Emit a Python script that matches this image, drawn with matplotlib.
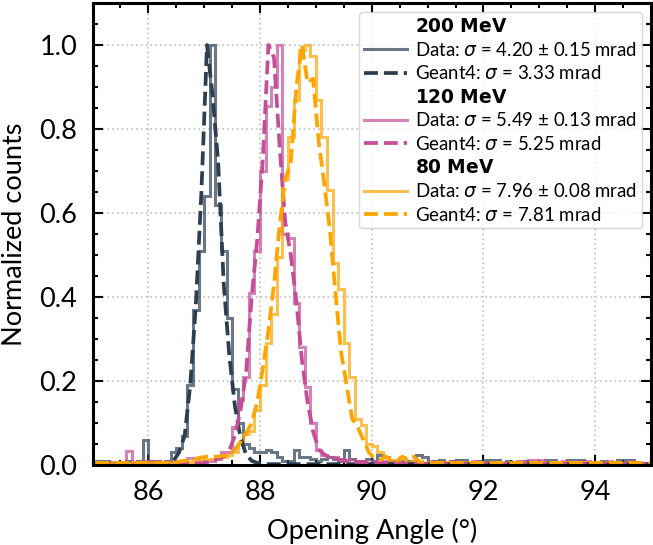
import numpy as np
import matplotlib
matplotlib.use("Agg")
import matplotlib.pyplot as plt
from matplotlib.lines import Line2D
from matplotlib.ticker import MultipleLocator

plt.rcParams["font.family"] = ["Lato", "DejaVu Sans"]
plt.rcParams["mathtext.fontset"] = "dejavusans"

# bin edges of the opening-angle histograms (deg), 0.1 deg bins
edges = np.round(np.arange(85.0, 95.0001, 0.1), 2)

# measured data, normalized counts per bin
data_200 = [
    0.01, 0.01, 0.01, 0.005, 0.0, 0.005, 0.01, 0.0, 0.01, 0.06,
    0.01, 0.01, 0.005, 0.01, 0.03, 0.04, 0.07, 0.19, 0.37, 0.51,
    0.64, 1.0, 0.62, 0.51, 0.35, 0.18, 0.10, 0.05, 0.04, 0.03,
    0.03, 0.035, 0.03, 0.02, 0.01, 0.01, 0.035, 0.02, 0.02, 0.015,
    0.01, 0.015, 0.02, 0.015, 0.01, 0.035, 0.015, 0.01, 0.01, 0.015,
    0.01, 0.025, 0.02, 0.01, 0.005, 0.01, 0.01, 0.005, 0.025, 0.02,
    0.005, 0.01, 0.012, 0.005, 0.01, 0.012, 0.012, 0.005, 0.005, 0.01,
    0.012, 0.012, 0.012, 0.005, 0.01, 0.005, 0.005, 0.01, 0.005, 0.005,
    0.005, 0.012, 0.012, 0.005, 0.005, 0.012, 0.012, 0.012, 0.005, 0.005,
    0.005, 0.01, 0.005, 0.005, 0.012, 0.012, 0.012, 0.005, 0.005, 0.005]
data_120 = [
    0.008, 0.008, 0.008, 0.008, 0.0, 0.005, 0.034, 0.005, 0.005, 0.01,
    0.005, 0.01, 0.005, 0.005, 0.01, 0.005, 0.005, 0.017, 0.017, 0.005,
    0.01, 0.01, 0.015, 0.03, 0.03, 0.09, 0.155, 0.21, 0.41, 0.51,
    0.70, 0.855, 0.90, 1.0, 0.55, 0.54, 0.385, 0.28, 0.186, 0.10,
    0.035, 0.025, 0.02, 0.02, 0.015, 0.01, 0.015, 0.01, 0.01, 0.005,
    0.01, 0.005, 0.01, 0.005, 0.01, 0.005, 0.005, 0.01, 0.005, 0.005,
    0.01, 0.005, 0.005, 0.005, 0.01, 0.005, 0.005, 0.005, 0.01, 0.005,
    0.008, 0.008, 0.008, 0.005, 0.005, 0.005, 0.01, 0.005, 0.013, 0.013,
    0.013, 0.005, 0.005, 0.005, 0.01, 0.005, 0.005, 0.005, 0.01, 0.005,
    0.005, 0.005, 0.01, 0.005, 0.005, 0.005, 0.01, 0.005, 0.005, 0.005]
data_80 = [
    0.005, 0.008, 0.005, 0.005, 0.008, 0.005, 0.005, 0.008, 0.005, 0.005,
    0.008, 0.005, 0.005, 0.008, 0.005, 0.008, 0.01, 0.008, 0.012, 0.01,
    0.015, 0.015, 0.02, 0.02, 0.025, 0.03, 0.05, 0.075, 0.08, 0.13,
    0.19, 0.29, 0.36, 0.495, 0.68, 0.78, 0.87, 0.988, 1.0, 0.975,
    0.87, 0.78, 0.655, 0.48, 0.42, 0.29, 0.21, 0.11, 0.095, 0.05,
    0.045, 0.03, 0.02, 0.012, 0.01, 0.02, 0.008, 0.01, 0.008, 0.005,
    0.008, 0.005, 0.005, 0.008, 0.005, 0.005, 0.008, 0.005, 0.005, 0.008,
    0.005, 0.005, 0.008, 0.005, 0.005, 0.005, 0.008, 0.005, 0.005, 0.005,
    0.008, 0.005, 0.005, 0.005, 0.008, 0.005, 0.005, 0.005, 0.008, 0.005,
    0.005, 0.005, 0.008, 0.005, 0.005, 0.005, 0.008, 0.005, 0.005, 0.005]

# Geant4 simulation, value at each bin centre
g4_200 = [0.002] * 13 + [
    0.004, 0.01, 0.03, 0.07, 0.19, 0.38, 0.65, 1.0, 0.88, 0.72,
    0.43, 0.26, 0.14, 0.065, 0.025, 0.01, 0.005] + [0.002] * 70
g4_120 = [0.004] * 20 + [
    0.006, 0.01, 0.015, 0.02, 0.035, 0.07, 0.13, 0.22, 0.40, 0.536,
    0.73, 1.0, 0.97, 0.76, 0.58, 0.50, 0.39, 0.25, 0.15, 0.08,
    0.037, 0.025, 0.018, 0.015, 0.012, 0.01, 0.008, 0.007, 0.006, 0.006,
    0.005, 0.005, 0.005, 0.004, 0.004] + [0.003] * 45
g4_80 = [0.005] * 15 + [
    0.008, 0.01, 0.012, 0.015, 0.018, 0.02, 0.02, 0.02, 0.022, 0.025,
    0.037, 0.055, 0.075, 0.10, 0.15, 0.23, 0.32, 0.43, 0.57, 0.68,
    0.72, 0.90, 1.0, 0.91, 0.92, 0.77, 0.67, 0.56, 0.41, 0.27,
    0.19, 0.11, 0.09, 0.06, 0.03, 0.015, 0.012, 0.02, 0.012, 0.01,
    0.02, 0.01, 0.02, 0.008, 0.008] + [0.005] * 40

energies = ["200 MeV", "120 MeV", "80 MeV"]
sigma_data = ["4.20 ± 0.15", "5.49 ± 0.13", "7.96 ± 0.08"]
sigma_g4 = ["3.33", "5.25", "7.81"]
colors = ["#2c3e50", "#c44e97", "#ffa500"]

centers = edges[:-1] + 0.05

fig = plt.figure(figsize=(6.53, 5.45), dpi=100)
ax = fig.add_axes([92.5 / 653, 1 - 465 / 545, (651 - 92.5) / 653, 462 / 545])

handles = []
for e, d, g, sd, sg, c in zip(energies, [data_200, data_120, data_80],
                              [g4_200, g4_120, g4_80], sigma_data, sigma_g4, colors):
    ax.stairs(d, edges, color=c, alpha=0.7, lw=2.2)
    ax.plot(centers, g, "--", color=c, lw=2.7)
    handles.append(Line2D([], [], ls="none", label=r"$\bf{" + e.replace(" ", r"\ ") + "}$"))
    handles.append(Line2D([], [], color=c, alpha=0.7, lw=2.2,
                          label=rf"Data: $\sigma$ = {sd} mrad"))
    handles.append(Line2D([], [], color=c, ls="--", lw=2.7,
                          label=rf"Geant4: $\sigma$ = {sg} mrad"))

ax.set_xlim(85, 95)
ax.set_ylim(0, 1.1)
ax.xaxis.set_major_locator(MultipleLocator(2))
ax.xaxis.set_minor_locator(MultipleLocator(0.5))
ax.yaxis.set_major_locator(MultipleLocator(0.2))
ax.yaxis.set_minor_locator(MultipleLocator(0.05))
ax.yaxis.set_major_formatter(plt.FuncFormatter(lambda v, p: f"{v:.1f}"))
ax.tick_params(which="both", direction="in", top=True, right=True,
               labelsize=19.5, pad=11, width=1.5)
ax.tick_params(which="major", length=7)
ax.tick_params(which="minor", length=3.5)
for s in ax.spines.values():
    s.set_linewidth(2.2)
ax.grid(True, which="major", ls=":", color="#c8c8c8", lw=1.3)
ax.set_axisbelow(True)

ax.set_xlabel("Opening Angle (°)", fontsize=19.5, labelpad=9)
ax.set_ylabel("Normalized counts", fontsize=19.5, labelpad=9)

ax.legend(handles=handles, loc="upper right", fontsize=13.4, labelspacing=0.3,
          handlelength=2.3, handletextpad=0.45, borderpad=0.25, borderaxespad=0.5)

fig.savefig("out.png", dpi=100)
